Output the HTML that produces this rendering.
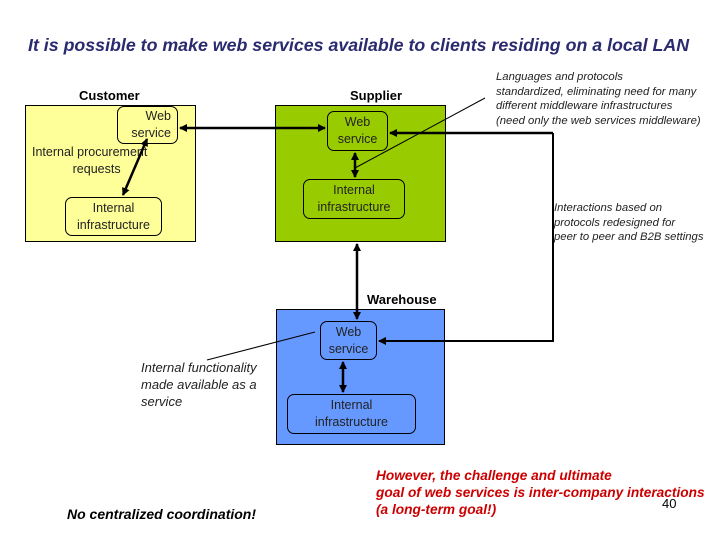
<!DOCTYPE html>
<html><head><meta charset="utf-8"><style>
body{margin:0;width:720px;height:540px;background:#fff;position:relative;overflow:hidden;font-family:"Liberation Sans",sans-serif}
.t{position:absolute;white-space:nowrap}
.box{position:absolute;border:1px solid #000;box-sizing:border-box}
.n{position:absolute;border:1px solid #000;border-radius:7px;box-sizing:border-box;display:flex;align-items:center;justify-content:center;text-align:center;font-size:12.5px;line-height:17px;color:#222}
</style></head><body>
<div class="t" style="left:28px;top:35px;font-size:17.8px;font-weight:bold;font-style:italic;color:#2a2a6e">It is possible to make web services available to clients residing on a local LAN</div>

<div class="box" style="left:25px;top:105px;width:171px;height:137px;background:#ffff99"></div>
<div class="box" style="left:275px;top:105px;width:171px;height:137px;background:#99cc00"></div>
<div class="box" style="left:276px;top:309px;width:169px;height:136px;background:#6699ff"></div>

<div class="t" style="left:79px;top:88px;font-size:13px;font-weight:bold">Customer</div>
<div class="t" style="left:350px;top:88px;font-size:13px;font-weight:bold">Supplier</div>
<div class="t" style="left:367px;top:292px;font-size:13px;font-weight:bold">Warehouse</div>

<div class="n" style="left:117px;top:106px;width:61px;height:38px;background:#ffff99;justify-content:flex-end;padding-right:6px;text-align:right">Web<br>service</div>
<div class="n" style="left:65px;top:197px;width:97px;height:39px;background:#ffff99">Internal<br>infrastructure</div>
<div class="t" style="left:32px;top:144px;font-size:12.5px;line-height:17px;text-align:center;color:#222">Internal procurement<br>&nbsp;&nbsp;&nbsp;&nbsp;requests</div>

<div class="n" style="left:327px;top:111px;width:61px;height:40px;background:#99cc00">Web<br>service</div>
<div class="n" style="left:303px;top:179px;width:102px;height:40px;background:#99cc00">Internal<br>infrastructure</div>

<div class="n" style="left:320px;top:321px;width:57px;height:39px;background:#6699ff">Web<br>service</div>
<div class="n" style="left:287px;top:394px;width:129px;height:40px;background:#6699ff">Internal<br>infrastructure</div>

<svg width="720" height="540" style="position:absolute;left:0;top:0">
<defs><marker id="a" markerWidth="8" markerHeight="8" refX="7" refY="4" orient="auto-start-reverse" markerUnits="userSpaceOnUse"><path d="M0,0 L8,4 L0,8z" fill="#000"/></marker></defs>
<g stroke="#000" stroke-width="2.5" fill="none">
<line x1="180" y1="128" x2="325" y2="128" marker-start="url(#a)" marker-end="url(#a)"/>
<line x1="147" y1="139" x2="123" y2="195" marker-start="url(#a)" marker-end="url(#a)"/>
<line x1="355" y1="153" x2="355" y2="177" marker-start="url(#a)" marker-end="url(#a)"/>
<line x1="357" y1="244" x2="357" y2="319" marker-start="url(#a)" marker-end="url(#a)"/>
<line x1="343" y1="362" x2="343" y2="392" marker-start="url(#a)" marker-end="url(#a)"/>
<polyline points="553,133 553,341 379,341" stroke-width="2" marker-end="url(#a)"/>
<line x1="553" y1="133" x2="390" y2="133" marker-end="url(#a)"/>
</g>
<g stroke="#000" stroke-width="1">
<line x1="485" y1="98" x2="355" y2="168"/>
<line x1="207" y1="360" x2="315" y2="332"/>
</g>
</svg>

<div class="t" style="left:496px;top:70px;font-size:11.3px;line-height:14.5px;font-style:italic;color:#222">Languages and protocols<br>standardized, eliminating need for many<br>different middleware infrastructures<br>(need only the web services middleware)</div>
<div class="t" style="left:554px;top:201px;font-size:11.3px;line-height:14.5px;font-style:italic;color:#222">Interactions based on<br>protocols redesigned for<br>peer to peer and B2B settings</div>
<div class="t" style="left:141px;top:359px;font-size:13px;line-height:17px;font-style:italic;color:#222">Internal functionality<br>made available as a<br>service</div>
<div class="t" style="left:67px;top:506px;font-size:14px;font-weight:bold;font-style:italic">No centralized coordination!</div>
<div class="t" style="left:376px;top:467px;font-size:13.7px;line-height:17px;font-weight:bold;font-style:italic;color:#cc0000">However, the challenge and ultimate<br>goal of web services is inter-company interactions<br>(a long-term goal!)</div>
<div class="t" style="left:662px;top:496px;font-size:13px">40</div>
</body></html>
